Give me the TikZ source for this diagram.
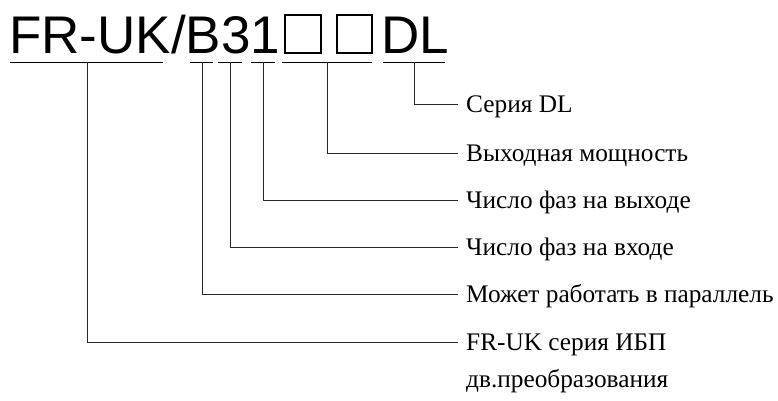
\documentclass[tikz,border=0pt]{standalone}
\usepackage{fontspec}
\setmainfont{Liberation Serif}
\newfontfamily\codefont{Liberation Sans}
\usepackage{xcolor}
\definecolor{leaderline}{RGB}{40, 40, 40}
\tikzset{
  lbl/.style={anchor=base west,inner sep=0pt,font=\fontsize{25.3}{25}\selectfont},
  leader/.style={draw=leaderline,line width=0.8pt},
  slot/.style={draw=black,line width=1.2pt}
}

\begin{document}
\begin{tikzpicture}[x=1pt,y=-1pt]
        \useasboundingbox (0,0) rectangle (778,400);
        % model code
        \node[anchor=base west,inner sep=0pt,font=\codefont\fontsize{53}{53}\selectfont] (code) at (9,53) {FR-UK/B31};
        \draw[slot] (285,15) rectangle (321,53);
        \draw[slot] (337,15) rectangle (372,53);
        \node[anchor=base west,inner sep=0pt,font=\codefont\fontsize{53}{53}\selectfont] (series) at (381,53) {DL};
        % underlines
        \foreach \a/\b in {10/163,190/213,218/242,251/275,282/372,383/445}
            \draw[line width=0.8pt] (\a,62) -- (\b,62);
        \coordinate (fr) at (87,62);
        \coordinate (par) at (202,62);
        \coordinate (inph) at (230,62);
        \coordinate (outph) at (263,62);
        \coordinate (pwr) at (327,62);
        \coordinate (dl) at (414,62);
        % labels
        \node[lbl] (dltxt) at (466,112) {Серия DL};
        \node[lbl] (pwrtxt) at (466,161) {Выходная мощность};
        \node[lbl] (outtxt) at (466,208) {Число фаз на выходе};
        \node[lbl] (intxt) at (466,255) {Число фаз на входе};
        \node[lbl] (partxt) at (466,302) {Может работать в параллель};
        \node[lbl] (frtxt) at (466,350) {FR-UK серия ИБП};
        \node[lbl] (frtxt2) at ([yshift=-37pt]frtxt.base west) {дв.преобразования};
        % leaders
        \draw[leader] (dl) |- ([shift={(-8pt,8pt)}]dltxt.base west);
        \draw[leader] (pwr) |- ([shift={(-8pt,8pt)}]pwrtxt.base west);
        \draw[leader] (outph) |- ([shift={(-8pt,8pt)}]outtxt.base west);
        \draw[leader] (inph) |- ([shift={(-8pt,8pt)}]intxt.base west);
        \draw[leader] (par) |- ([shift={(-8pt,8pt)}]partxt.base west);
        \draw[leader] (fr) |- ([shift={(-8pt,8pt)}]frtxt.base west);
    \end{tikzpicture}
\end{document}
